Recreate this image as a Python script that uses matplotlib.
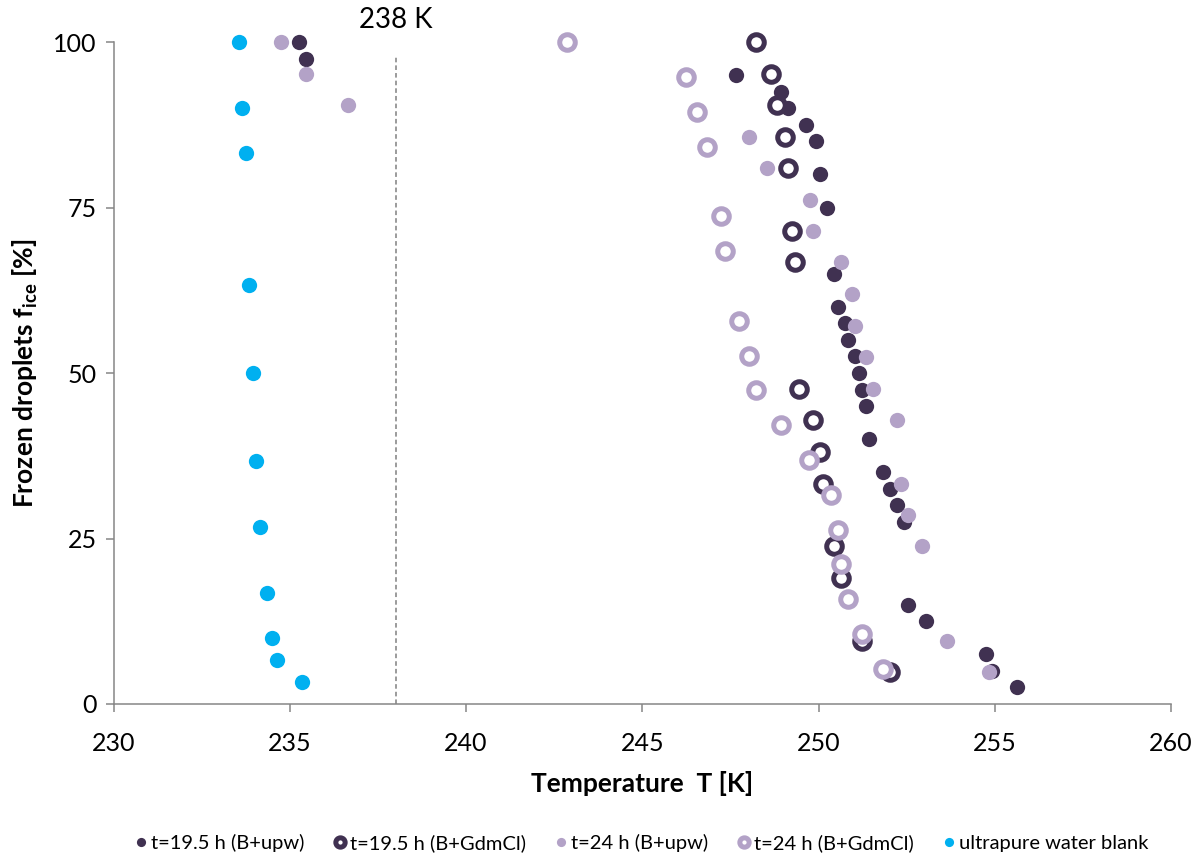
import matplotlib
matplotlib.use("Agg")
import matplotlib.pyplot as plt

plt.rcParams['font.family'] = ['Lato', 'DejaVu Sans']
plt.rcParams['mathtext.fontset'] = 'custom'
plt.rcParams['mathtext.bf'] = 'Lato:bold'
plt.rcParams['mathtext.rm'] = 'Lato'

# t=19.5 h (B+upw)
t195_upw_T = [235.25, 235.46, 247.65, 248.93, 249.14, 249.64, 249.94, 250.04, 250.25,
              250.45, 250.54, 250.74, 250.84, 251.04, 251.15, 251.23, 251.34, 251.44,
              251.84, 252.03, 252.23, 252.43, 252.55, 253.04, 254.74, 254.93, 255.64]
t195_upw_f = [100, 97.5, 95, 92.5, 90, 87.5, 85, 80, 75,
              65, 60, 57.5, 55, 52.5, 50, 47.5, 45, 40,
              35, 32.5, 30, 27.5, 15, 12.5, 7.5, 5, 2.5]

# t=19.5 h (B+GdmCl)
t195_gdm_T = [248.24, 248.64, 248.83, 249.05, 249.14, 249.25, 249.34, 249.44,
              249.84, 250.04, 250.13, 250.44, 250.64, 251.24, 252.03]
t195_gdm_f = [100, 95.2, 90.5, 85.7, 81.0, 71.4, 66.7, 47.6,
              42.9, 38.1, 33.3, 23.8, 19.0, 9.5, 4.8]

# t=24 h (B+upw)
t24_upw_T = [234.75, 235.46, 236.65, 248.03, 248.54, 249.75, 249.84, 250.64, 250.94,
             251.04, 251.34, 251.54, 252.24, 252.34, 252.55, 252.94, 253.64, 254.83]
t24_upw_f = [100, 95.2, 90.5, 85.7, 81.0, 76.2, 71.4, 66.7, 61.9,
             57.1, 52.4, 47.6, 42.9, 33.3, 28.6, 23.8, 9.5, 4.8]

# t=24 h (B+GdmCl)
t24_gdm_T = [242.85, 246.24, 246.54, 246.84, 247.24, 247.35, 247.74, 248.04, 248.24,
             248.94, 249.74, 250.34, 250.54, 250.64, 250.84, 251.24, 251.84]
t24_gdm_f = [100, 94.7, 89.5, 84.2, 73.7, 68.4, 57.9, 52.6, 47.4,
             42.1, 36.8, 31.6, 26.3, 21.1, 15.8, 10.5, 5.3]

# ultrapure water blank
blank_T = [233.56, 233.65, 233.75, 233.85, 233.95, 234.05, 234.15, 234.35, 234.49, 234.64, 235.34]
blank_f = [100, 90, 83.3, 63.3, 50, 36.7, 26.7, 16.7, 10, 6.7, 3.3]

dark = '#403151'
light = '#b3a2c7'
blue = '#00b0f0'
axis_grey = '#868686'

fig = plt.figure(figsize=(12.01, 8.58), dpi=100)
ax = fig.add_axes([0.0946, 0.1795, 0.975 - 0.0946, 0.951 - 0.1795])

dot = dict(marker='o', linestyle='none', markersize=11, markeredgewidth=0, clip_on=False)
ring = dict(marker='o', linestyle='none', markersize=11.2, markeredgewidth=3.6,
            markerfacecolor='white', clip_on=False)

ax.plot(t195_upw_T, t195_upw_f, color=dark, label='t=19.5 h (B+upw)', zorder=3, **dot)
ax.plot(t195_gdm_T, t195_gdm_f, color=dark, markeredgecolor=dark,
        label='t=19.5 h (B+GdmCl)', zorder=3, **ring)
ax.plot(t24_upw_T, t24_upw_f, color=light, label='t=24 h (B+upw)', zorder=4, **dot)
ax.plot(t24_gdm_T, t24_gdm_f, color=light, markeredgecolor=light,
        label='t=24 h (B+GdmCl)', zorder=4, **ring)
ax.plot(blank_T, blank_f, color=blue, label='ultrapure water blank', zorder=3, **dot)

# 238 K marker line
ax.plot([238, 238], [0, 98], color='#808080', linestyle=(0, (3, 2)), linewidth=1.1, zorder=2)
ax.text(238, 103.4, '238 K', ha='center', va='center', fontsize=20)

ax.set_xlim(230, 260)
ax.set_ylim(0, 100)
ax.set_xticks([230, 235, 240, 245, 250, 255, 260])
ax.set_yticks([0, 25, 50, 75, 100])

for side in ['top', 'right']:
    ax.spines[side].set_visible(False)
for side in ['left', 'bottom']:
    ax.spines[side].set_color(axis_grey)
    ax.spines[side].set_linewidth(1.1)
ax.tick_params(axis='both', direction='out', length=6, width=1.1, color=axis_grey,
               labelsize=18, pad=6)
ax.tick_params(axis='x', pad=14)

ax.set_xlabel('Temperature  T [K]', fontsize=19, fontweight='bold', labelpad=12)
ax.set_ylabel(r'Frozen droplets f$_{\mathbf{ice}}$ [%]', fontsize=19, fontweight='bold', labelpad=10)

leg = ax.legend(loc='center', bbox_to_anchor=(0.5, -0.21), ncol=5, frameon=False,
                markerscale=0.6, handlelength=0.5, handletextpad=0.25, columnspacing=1.5,
                prop={'size': 14.5})

fig.savefig('out.png', dpi=100)
